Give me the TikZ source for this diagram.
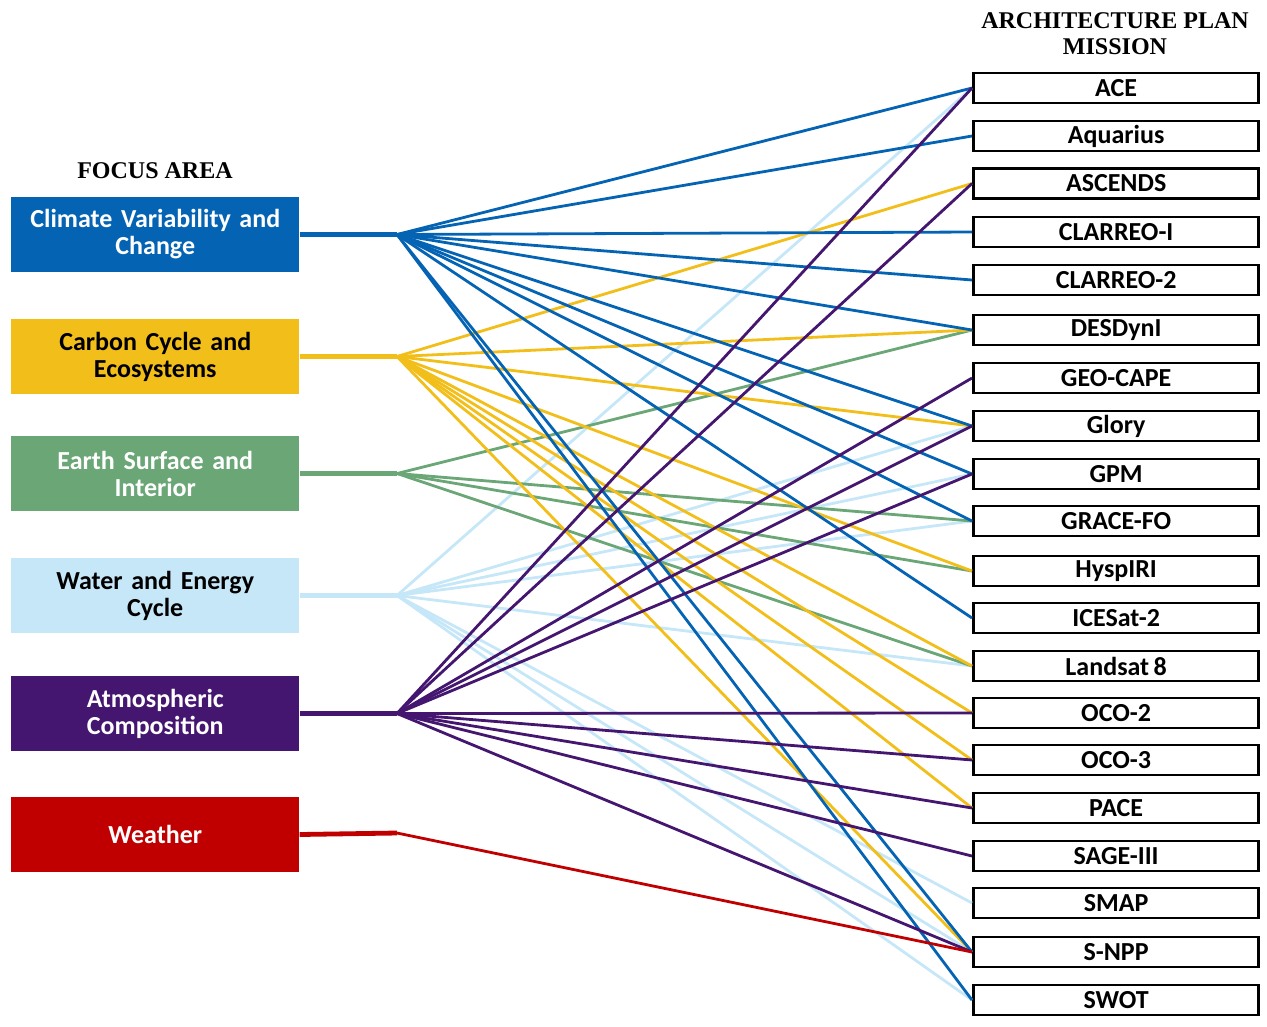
\documentclass[tikz,border=0pt]{standalone}
\usepackage{fontspec}
\setmainfont{Liberation Serif}
\newfontfamily\boxfont[WordSpace=0.75]{Carlito}
\definecolor{cclim}{RGB}{5,99,180}
\definecolor{ccarb}{RGB}{242,190,25}
\definecolor{cearth}{RGB}{106,166,118}
\definecolor{cwater}{RGB}{198,231,248}
\definecolor{catmos}{RGB}{68,22,111}
\definecolor{cweat}{RGB}{192,0,0}
\begin{document}
\begin{tikzpicture}[x=0.75pt,y=-0.75pt,
  focus/.style={minimum width=216pt,minimum height=56.25pt,inner sep=0pt,anchor=west,
    text width=214pt,align=center,font=\boxfont\bfseries\fontsize{19.5}{20.3}\selectfont},
  mission/.style={draw=black,line width=2.2pt,minimum width=214pt,minimum height=22.5pt,inner sep=0pt,
    anchor=west,font=\boxfont\bfseries\fontsize{19.5}{20.5}\selectfont},
  head/.style={font=\bfseries\fontsize{18}{19.5}\selectfont,align=center},
  stub/.style={line width=3.6pt},
  fan/.style={line width=2.1pt}]
\useasboundingbox (0,0) rectangle (1267,1026);
% headings
\node[head] (hfocus) at (155,171) {FOCUS AREA};
\node[head] (hmission) at (1115,34) {ARCHITECTURE PLAN\\MISSION};
% focus areas
\node[focus,fill=cclim,text=white] (clim) at (11,234.5) {Climate Variability and\\Change};
\node[focus,fill=ccarb,text=black] (carb) at (11,356.5) {Carbon Cycle and\\Ecosystems};
\node[focus,fill=cearth,text=white] (earth) at (11,473.5) {Earth Surface and\\Interior};
\node[focus,fill=cwater,text=black] (water) at (11,595.5) {Water and Energy\\Cycle};
\node[focus,fill=catmos,text=white] (atmos) at (11,713.5) {Atmospheric\\Composition};
\node[focus,fill=cweat,text=white] (weat) at (11,834.5) {Weather};
% hubs
\coordinate (hclim) at (397,234.5);
\coordinate (hcarb) at (397,356.5);
\coordinate (hearth) at (397,473.5);
\coordinate (hwater) at (397,595.5);
\coordinate (hatmos) at (397,713.5);
\coordinate (hweat) at (397,833);
% missions
\node[mission] (ace) at (972,88) {ACE};
\node[mission] (aqu) at (972,136) {Aquarius};
\node[mission] (asc) at (972,183.5) {ASCENDS};
\node[mission] (cl1) at (972,232) {CLARREO-I};
\node[mission] (cl2) at (972,280) {CLARREO-2};
\node[mission] (des) at (972,330) {DESDynI};
\node[mission] (geo) at (972,378) {GEO-CAPE};
\node[mission] (glo) at (972,426) {Glory};
\node[mission] (gpm) at (972,474) {GPM};
\node[mission] (gra) at (972,521) {GRACE-FO};
\node[mission] (hys) at (972,571) {HyspIRI};
\node[mission] (ice) at (972,618) {ICESat-2};
\node[mission] (lan) at (972,666) {Landsat 8};
\node[mission] (oc2) at (972,713) {OCO-2};
\node[mission] (oc3) at (972,760) {OCO-3};
\node[mission] (pac) at (972,808) {PACE};
\node[mission] (sag) at (972,856) {SAGE-III};
\node[mission] (sma) at (972,903) {SMAP};
\node[mission] (snp) at (972,952) {S-NPP};
\node[mission] (swo) at (972,1000) {SWOT};
% stubs
\draw[stub,cclim] (clim.east) -- (hclim);
\draw[stub,ccarb] (carb.east) -- (hcarb);
\draw[stub,cearth] (earth.east) -- (hearth);
\draw[stub,cwater] (water.east) -- (hwater);
\draw[stub,catmos] (atmos.east) -- (hatmos);
\draw[stub,cweat] (weat.east) -- (hweat);
% fans
\foreach \m in {ace,glo,gpm,gra,lan,sma,snp,swo} \draw[fan,cwater] (hwater) -- (\m.west);
\foreach \m in {des,gra,hys,lan} \draw[fan,cearth] (hearth) -- (\m.west);
\foreach \m in {asc,des,glo,hys,lan,oc2,oc3,pac,snp} \draw[fan,ccarb] (hcarb) -- (\m.west);
\foreach \m in {ace,aqu,cl1,cl2,des,glo,gpm,gra,ice,snp,swo} \draw[fan,cclim] (hclim) -- (\m.west);
\foreach \m in {ace,asc,geo,glo,gpm,oc2,oc3,pac,sag,snp} \draw[fan,catmos] (hatmos) -- (\m.west);
\draw[fan,cweat] (hweat) -- (snp.west);
\end{tikzpicture}
\end{document}
